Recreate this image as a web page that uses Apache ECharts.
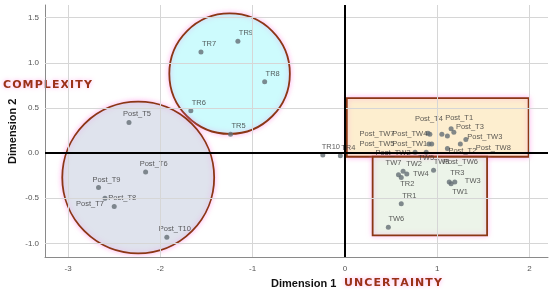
<!DOCTYPE html>
<html>
<head>
<meta charset="utf-8">
<title>Dimension plot</title>
<script src="https://cdn.jsdelivr.net/npm/echarts@6/dist/echarts.min.js"></script>
<style>
  html, body { margin: 0; padding: 0; background: #fff; }
  #chart { width: 550px; height: 290px; }
</style>
</head>
<body>
<div id="chart"></div>
<script>
// point names and coordinates
var names = ['TR9', 'TR7', 'TR8', 'TR6', 'TR5', 'TR10', 'TR4',
  'Post_T5', 'Post_T6', 'Post_T9', 'Post_T7', 'Post_T8', 'Post_T10',
  'Post_TW7', 'Post_TW4', 'Post_TW5', 'Post_TW1', 'Post_T4', 'Post_T1', 'Post_T3',
  'Post_TW3', 'Post_TW8', 'Post_T2', 'Post_TW6', 'Post_TW2',
  'TW5', 'TW8', 'TW7', 'TW2', 'TW4', 'TR2', 'TR3', 'TW3', 'TW1', 'TR1', 'TW6'];
var dim1 = [-1.16, -1.56, -0.87, -1.67, -1.24, -0.24, -0.05,
  -2.34, -2.16, -2.67, -2.60, -2.50, -1.93,
  0.90, 0.92, 0.91, 0.94, 1.05, 1.15, 1.18,
  1.31, 1.25, 1.11, 1.11, 0.76,
  0.88, 0.96, 0.58, 0.63, 0.67, 0.61, 1.13, 1.19, 1.15, 0.61, 0.47];
var dim2 = [1.24, 1.12, 0.79, 0.47, 0.21, -0.02, -0.03,
  0.34, -0.21, -0.38, -0.50, -0.59, -0.93,
  0.22, 0.21, 0.10, 0.10, 0.21, 0.27, 0.23,
  0.15, 0.10, 0.05, 0.19, 0.01,
  0.01, -0.19, -0.24, -0.20, -0.23, -0.27, -0.32, -0.32, -0.34, -0.56, -0.82];

// highlighted groups: circles (centre x, centre y, radius in dimension-1 units)
var circleX = [-1.25, -2.24];
var circleY = [0.88, -0.27];
var circleR = [0.653, 0.823];
var circleFill = ['#cdfbfd', '#dfe3ed'];
// rectangles (x0, x1, y0, y1)
var rectX0 = [0.02, 0.30];
var rectX1 = [1.99, 1.54];
var rectY0 = [-0.04, -0.91];
var rectY1 = [0.61, -0.04];
var rectFill = ['#fdeecf', '#ecf4e9'];

var xTicks = [-3, -2, -1, 0, 1, 2];
var yTicks = [-1.0, -0.5, 0.0, 0.5, 1.0, 1.5];

// label offsets (px, relative to the default top-right spot) where labels were moved
var labelShift = {
  'Post_T7': [-15, 6],
  'Post_TW7': [-51, 1], 'Post_TW4': [-20, 0], 'Post_TW5': [-52, 0], 'Post_TW1': [-22, 0],
  'Post_T4': [-13, -15], 'Post_T1': [8, -11], 'Post_T3': [16, -5], 'Post_TW3': [19, -3],
  'Post_TW8': [33, 4], 'Post_T2': [15, 2], 'Post_TW6': [13, 26], 'Post_TW2': [-22, 1],
  'TW5': [0, 6], 'TW7': [-5, -12], 'TW2': [11, -7], 'TW4': [14, 0], 'TR2': [6, 6],
  'TR3': [8, -9], 'TW3': [18, -1], 'TW1': [9, 8]
};

var points = names.map(function (n, i) {
  var off = labelShift[n] || [8, -8];
  return {
    name: n,
    value: [dim1[i], dim2[i]],
    label: { position: [2.5 + off[0], 2.5 + off[1]] }
  };
});

var shapes = [];
circleX.forEach(function (c, i) { shapes.push({ value: [c, circleY[i], circleR[i], 0], kind: 'circle', idx: i }); });
rectX0.forEach(function (c, i) { shapes.push({ value: [c, rectY0[i], rectX1[i], rectY1[i]], kind: 'rect', idx: i }); });

var glow = { shadowBlur: 5, shadowColor: 'rgba(255,130,225,0.55)' };
var hs = '\u200A';
function spaced(s) { return s.split('').join(hs); }

var gridLines = xTicks.map(function (v) { return { xAxis: v }; })
  .concat(yTicks.map(function (v) { return { yAxis: v }; }));

var chart = echarts.init(document.getElementById('chart'));
chart.setOption({
  animation: false,
  grid: { left: 45, right: 2, top: 5, bottom: 33, outerBoundsMode: 'none' },
  xAxis: {
    type: 'value', min: -3.25, max: 2.2,
    axisLine: { onZero: false, lineStyle: { color: '#8a8a8a', width: 1 } },
    axisTick: { show: false },
    axisLabel: {
      color: '#555', fontSize: 8, margin: 8, fontFamily: 'Liberation Sans',
      showMinLabel: false, showMaxLabel: false,
      formatter: function (v) { return xTicks.indexOf(v) >= 0 ? String(v) : ''; }
    },
    splitLine: { show: false }
  },
  yAxis: {
    type: 'value', min: -1.15, max: 1.64,
    axisLine: { show: true, onZero: false, lineStyle: { color: '#8a8a8a', width: 1 } },
    axisTick: { show: false },
    axisLabel: {
      color: '#555', fontSize: 8, margin: 6, fontFamily: 'Liberation Sans',
      showMinLabel: false, showMaxLabel: false,
      formatter: function (v) { return yTicks.indexOf(v) >= 0 ? v.toFixed(1) : ''; }
    },
    splitLine: { show: false }
  },
  graphic: [
    { type: 'text', left: 271, top: 278, style: { text: 'Dimension 1', fill: '#111', font: 'bold 11px "Liberation Sans"' } },
    { type: 'text', left: 344, top: 278, style: { text: spaced('UNCERTAINTY'), fill: '#9a3218', font: 'bold 11px "DejaVu Sans"',
      textShadowColor: 'rgba(255,140,225,0.7)', textShadowBlur: 4 } },
    { type: 'text', left: 3, top: 80, style: { text: spaced('COMPLEXITY'), fill: '#9a3218', font: 'bold 11px "DejaVu Sans"',
      textShadowColor: 'rgba(255,140,225,0.7)', textShadowBlur: 4 } },
    { type: 'text', x: 7, y: 164, rotation: Math.PI / 2, style: { text: 'Dimension 2', fill: '#111', font: 'bold 11px "Liberation Sans"' } }
  ],
  series: [
    {
      type: 'custom',
      z: -1,
      silent: true,
      data: shapes,
      renderItem: function (params, api) {
        var d = shapes[params.dataIndex];
        if (d.kind === 'circle') {
          var c = api.coord([api.value(0), api.value(1)]);
          var r = api.size([api.value(2), 0])[0];
          return {
            type: 'circle',
            shape: { cx: c[0], cy: c[1], r: r },
            style: Object.assign({ fill: circleFill[d.idx], stroke: '#8b3615', lineWidth: 1.8 }, glow)
          };
        }
        var p0 = api.coord([api.value(0), api.value(3)]);
        var p1 = api.coord([api.value(2), api.value(1)]);
        return {
          type: 'rect',
          shape: { x: p0[0], y: p0[1], width: p1[0] - p0[0], height: p1[1] - p0[1] },
          style: Object.assign({ fill: rectFill[d.idx], stroke: '#8b3615', lineWidth: 1.8 }, glow)
        };
      }
    },
    {
      // grid lines at the tick values, drawn over the shape fills
      type: 'scatter',
      z: 0,
      silent: true,
      data: [],
      markLine: {
        silent: true,
        symbol: 'none',
        label: { show: false },
        lineStyle: { color: '#d6d6d6', width: 1, type: 'solid' },
        data: gridLines
      }
    },
    {
      type: 'scatter',
      symbolSize: 5,
      itemStyle: { color: '#646e74' },
      data: points,
      label: {
        show: true,
        formatter: '{b}',
        align: 'center',
        verticalAlign: 'middle',
        color: '#333',
        fontSize: 7.5,
        fontFamily: 'Liberation Sans'
      },
      labelLayout: { hideOverlap: false },
      markLine: {
        silent: true,
        symbol: 'none',
        label: { show: false },
        lineStyle: { color: '#000', width: 2, type: 'solid' },
        data: [{ xAxis: 0 }, { yAxis: 0 }]
      }
    }
  ]
});
</script>
</body>
</html>
